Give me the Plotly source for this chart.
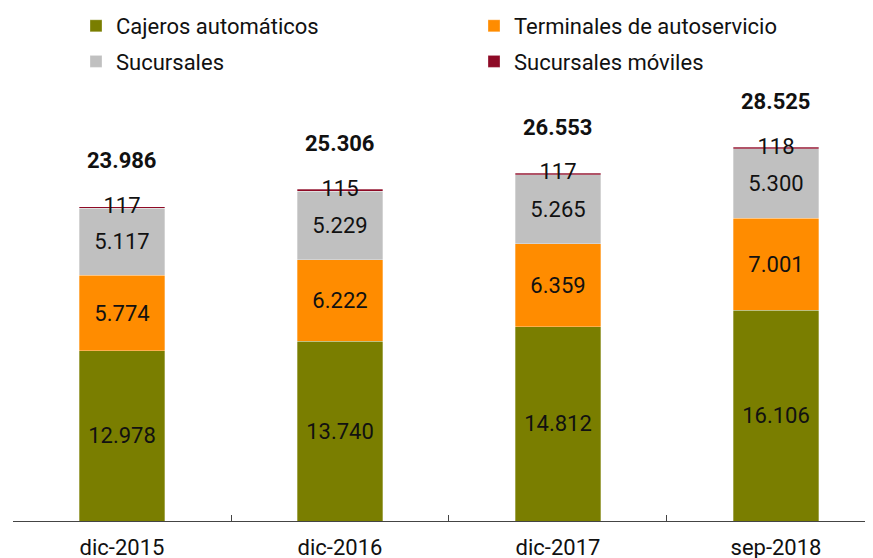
import plotly.graph_objects as go

categories = ["dic-2015", "dic-2016", "dic-2017", "sep-2018"]
cajeros = [12978, 13740, 14812, 16106]
terminales = [5774, 6222, 6359, 7001]
sucursales = [5117, 5229, 5265, 5300]
moviles = [117, 115, 117, 118]
totales = [23986, 25306, 26553, 28525]

names = ["Cajeros automáticos", "Terminales de autoservicio", "Sucursales", "Sucursales móviles"]
colors = ["#7A7E00", "#FF8C00", "#C0C0C0", "#8E0A26"]
legends = ["legend", "legend2", "legend", "legend2"]
series = [cajeros, terminales, sucursales, moviles]

FONT = "Roboto"

def fmt(v):
    return f"{v:,}".replace(",", ".")

fig = go.Figure()
for i, (name, vals) in enumerate(zip(names, series)):
    fig.add_trace(go.Bar(
        x=categories, y=vals, name=name,
        marker=dict(color=colors[i], line=dict(color="rgba(255,255,255,0.6)", width=0.5)),
        text=[fmt(v) for v in vals] if i < 3 else None,
        textposition="inside" if i < 3 else "none",
        insidetextanchor="middle",
        textfont=dict(family=FONT, size=22, color="#111111"),
        legend=legends[i], legendgroup=f"g{i}",
        hoverinfo="skip",
    ))

# labels for the small top segment, centred on it
base = [c + t + s for c, t, s in zip(cajeros, terminales, sucursales)]
fig.add_trace(go.Scatter(
    x=categories, y=[b + m / 2 for b, m in zip(base, moviles)],
    mode="text", text=[fmt(v) for v in moviles],
    textfont=dict(family=FONT, size=22, color="#111111"),
    showlegend=False, hoverinfo="skip", cliponaxis=False,
))

for c, t in zip(categories, totales):
    fig.add_annotation(x=c, y=t, text=f"<b>{fmt(t)}</b>", showarrow=False,
                       yshift=46, yanchor="middle",
                       font=dict(family=FONT, size=22, color="#111111"))

leg_common = dict(xref="container", yref="paper", y=(513 + 3) / 431,
                  xanchor="left", yanchor="top", traceorder="grouped",
                  font=dict(family=FONT, size=22, color="#111111"),
                  bgcolor="rgba(0,0,0,0)", tracegroupgap=4, itemwidth=30)

fig.update_layout(
    width=873, height=558,
    margin=dict(l=5, r=0, t=82, b=45, autoexpand=False),
    barmode="stack", bargap=0.606,
    plot_bgcolor="white", paper_bgcolor="white",
    font=dict(family=FONT, size=22, color="#111111"),
    legend=dict(x=68/873, **leg_common),
    legend2=dict(x=466/873, **leg_common),
    xaxis=dict(type="category", range=[-0.5, 3.4817], showline=True,
               linecolor="#444444", linewidth=1, ticks="inside", ticklen=6,
               tickcolor="#444444", tickson="boundaries", showgrid=False,
               ticklabelstandoff=7, tickangle=0,
               tickfont=dict(family=FONT, size=22, color="#111111")),
    yaxis=dict(visible=False, range=[0, 32901]),
)

fig.write_html("out.html")
